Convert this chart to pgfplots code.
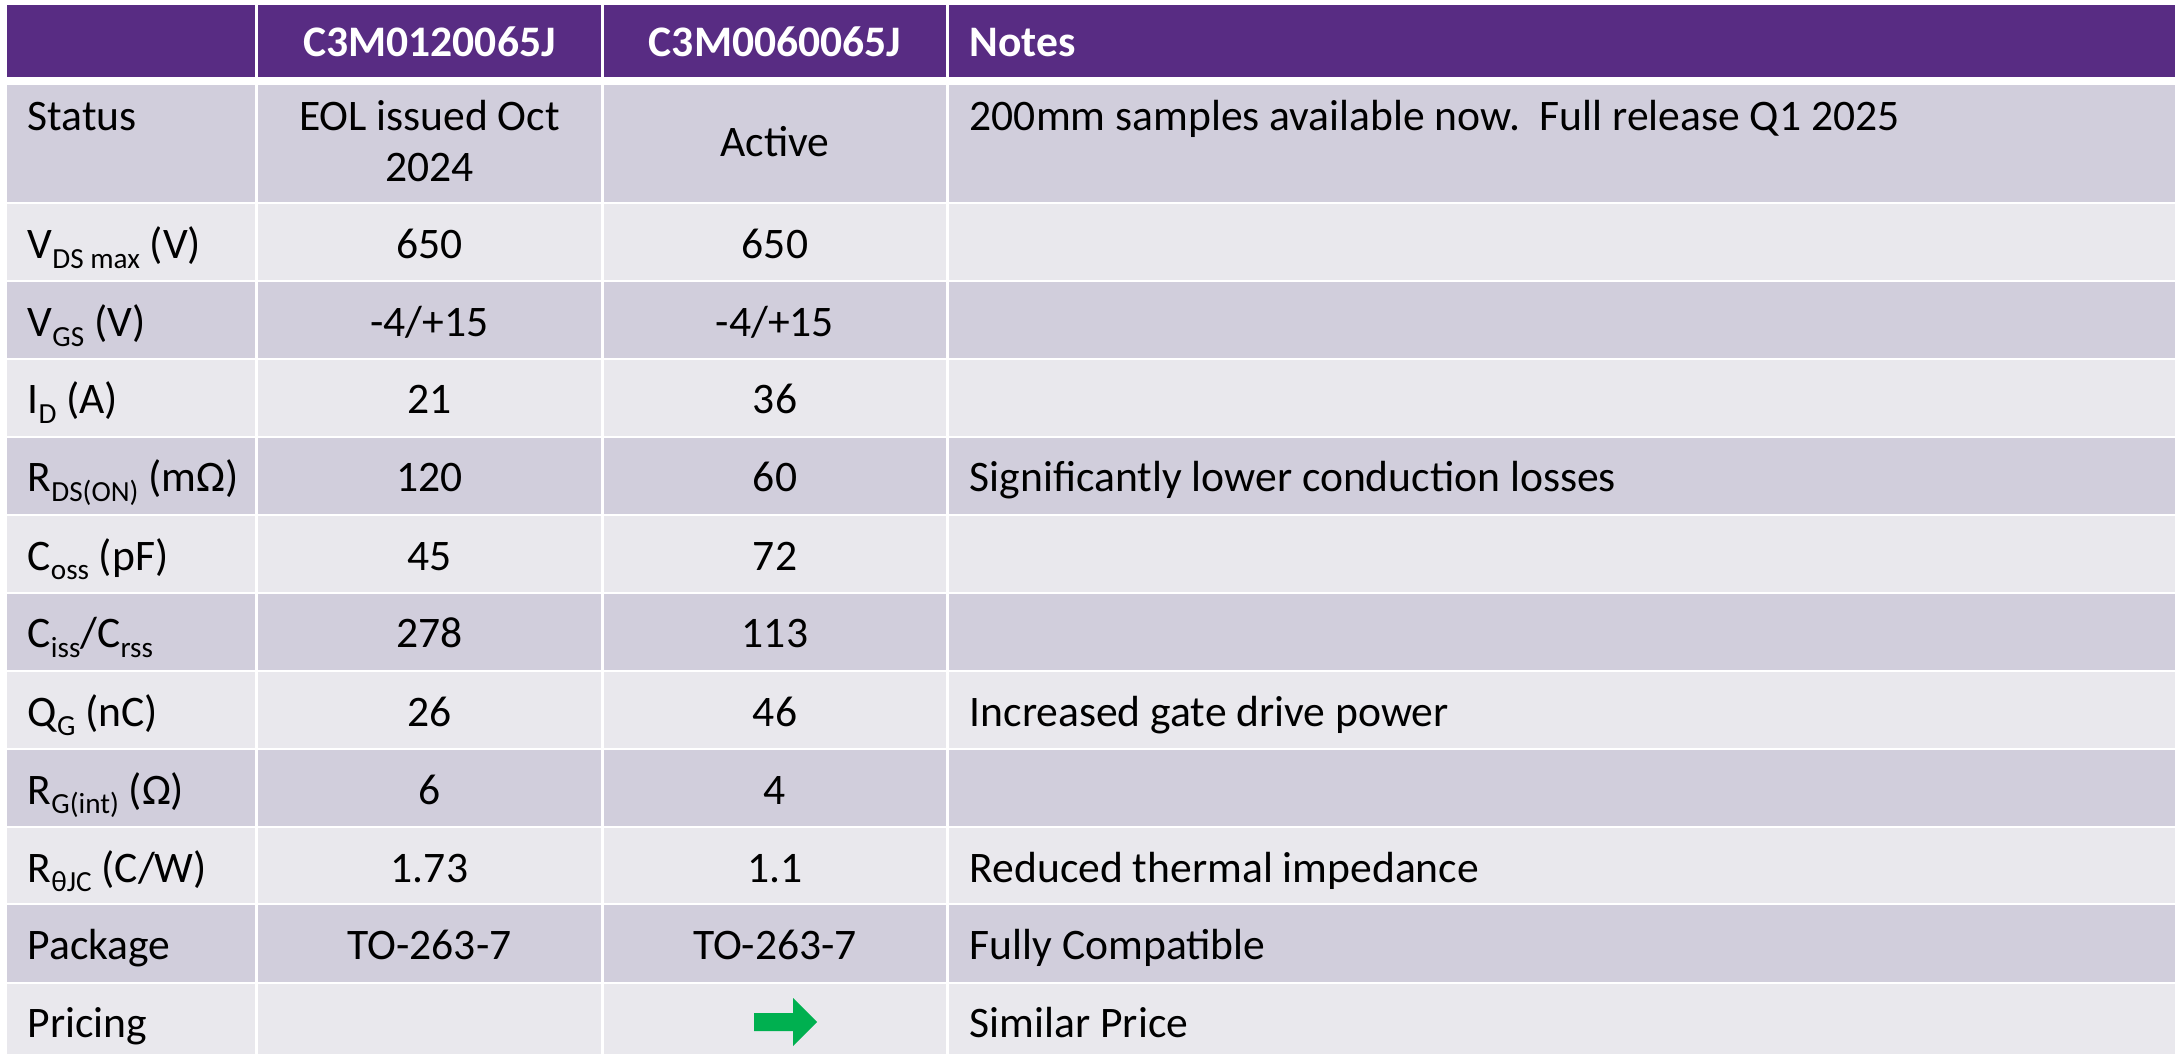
\documentclass[border=0pt]{standalone}
\usepackage{pgfplots}
\pgfplotsset{compat=1.18}
\usepackage{fontspec}
\setmainfont{Carlito}
\definecolor{hdr}{RGB}{88,44,131}
\definecolor{rowdark}{RGB}{209,206,220}
\definecolor{rowlight}{RGB}{233,232,237}
\definecolor{arrowgreen}{RGB}{0,176,80}
\newcommand{\sub}[1]{\raisebox{-2.8pt}{\fontsize{8.3}{9}\selectfont #1}}
\newcommand{\tf}{\fontsize{12.4}{15}\selectfont}
\begin{document}
\begin{tikzpicture}[every node/.style={inner sep=0pt,font=\tf}]
\begin{axis}[width=218.2mm,height=105.4mm,scale only axis,
  xmin=0,xmax=2182,ymin=0,ymax=1054,y dir=reverse,hide axis,clip=false]
\path (axis cs:0,0) rectangle (axis cs:2182,1054);
% row backgrounds
\addplot[fill=hdr,draw=none] coordinates {(7,5) (2175,5) (2175,77) (7,77)} --cycle;
\addplot[fill=rowdark,draw=none] coordinates {(7,85) (2175,85) (2175,202) (7,202)} --cycle;
\addplot[fill=rowlight,draw=none] coordinates {(7,204) (2175,204) (2175,280) (7,280)} --cycle;
\addplot[fill=rowdark,draw=none] coordinates {(7,282) (2175,282) (2175,358) (7,358)} --cycle;
\addplot[fill=rowlight,draw=none] coordinates {(7,360) (2175,360) (2175,436) (7,436)} --cycle;
\addplot[fill=rowdark,draw=none] coordinates {(7,438) (2175,438) (2175,514) (7,514)} --cycle;
\addplot[fill=rowlight,draw=none] coordinates {(7,516) (2175,516) (2175,592) (7,592)} --cycle;
\addplot[fill=rowdark,draw=none] coordinates {(7,594) (2175,594) (2175,670) (7,670)} --cycle;
\addplot[fill=rowlight,draw=none] coordinates {(7,672) (2175,672) (2175,748) (7,748)} --cycle;
\addplot[fill=rowdark,draw=none] coordinates {(7,750) (2175,750) (2175,826) (7,826)} --cycle;
\addplot[fill=rowlight,draw=none] coordinates {(7,828) (2175,828) (2175,903) (7,903)} --cycle;
\addplot[fill=rowdark,draw=none] coordinates {(7,905) (2175,905) (2175,982) (7,982)} --cycle;
\addplot[fill=rowlight,draw=none] coordinates {(7,984) (2175,984) (2175,1054) (7,1054)} --cycle;
% column separators
\addplot[fill=white,draw=none] coordinates {(255,0) (258,0) (258,1054) (255,1054)} --cycle;
\addplot[fill=white,draw=none] coordinates {(601,0) (604,0) (604,1054) (601,1054)} --cycle;
\addplot[fill=white,draw=none] coordinates {(946,0) (949,0) (949,1054) (946,1054)} --cycle;
% green arrow
\addplot[fill=arrowgreen,draw=none] coordinates {(754,1013) (793,1013) (793,998) (817,1022) (793,1046) (793,1031) (754,1031)} --cycle;
% header
\node[anchor=base,text=white] at (axis cs:429.5,57) {\bfseries C3M0120065J};
\node[anchor=base,text=white] at (axis cs:775,57) {\bfseries C3M0060065J};
\node[anchor=base west,text=white] at (axis cs:969,57) {\bfseries Notes};
% status
\node[anchor=base west] at (axis cs:27,131) {Status};
\node[anchor=base] at (axis cs:429.5,131) {EOL issued Oct};
\node[anchor=base] at (axis cs:429.5,182) {2024};
\node[anchor=base] at (axis cs:775,157) {Active};
\node[anchor=base west] at (axis cs:969,131) {200mm samples available now.\ \ Full release Q1 2025};
% rows
\node[anchor=base west] at (axis cs:27,259) {V\sub{DS max} (V)};
\node[anchor=base] at (axis cs:429.5,259) {650};
\node[anchor=base] at (axis cs:775,259) {650};
\node[anchor=base west] at (axis cs:27,337) {V\sub{GS} (V)};
\node[anchor=base] at (axis cs:429.5,337) {-4/+15};
\node[anchor=base] at (axis cs:775,337) {-4/+15};
\node[anchor=base west] at (axis cs:27,414) {I\sub{D} (A)};
\node[anchor=base] at (axis cs:429.5,414) {21};
\node[anchor=base] at (axis cs:775,414) {36};
\node[anchor=base west] at (axis cs:27,492) {R\sub{DS(ON)} (mΩ)};
\node[anchor=base] at (axis cs:429.5,492) {120};
\node[anchor=base] at (axis cs:775,492) {60};
\node[anchor=base west] at (axis cs:969,492) {Significantly lower conduction losses};
\node[anchor=base west] at (axis cs:27,570) {C\sub{oss} (pF)};
\node[anchor=base] at (axis cs:429.5,570) {45};
\node[anchor=base] at (axis cs:775,570) {72};
\node[anchor=base west] at (axis cs:27,648) {C\sub{iss}/C\sub{rss}};
\node[anchor=base] at (axis cs:429.5,648) {278};
\node[anchor=base] at (axis cs:775,648) {113};
\node[anchor=base west] at (axis cs:27,726) {Q\sub{G} (nC)};
\node[anchor=base] at (axis cs:429.5,726) {26};
\node[anchor=base] at (axis cs:775,726) {46};
\node[anchor=base west] at (axis cs:969,726) {Increased gate drive power};
\node[anchor=base west] at (axis cs:27,804) {R\sub{G(int)} (Ω)};
\node[anchor=base] at (axis cs:429.5,804) {6};
\node[anchor=base] at (axis cs:775,804) {4};
\node[anchor=base west] at (axis cs:27,882) {R\sub{θJC} (C/W)};
\node[anchor=base] at (axis cs:429.5,882) {1.73};
\node[anchor=base] at (axis cs:775,882) {1.1};
\node[anchor=base west] at (axis cs:969,882) {Reduced thermal impedance};
\node[anchor=base west] at (axis cs:27,959) {Package};
\node[anchor=base] at (axis cs:429.5,959) {TO-263-7};
\node[anchor=base] at (axis cs:775,959) {TO-263-7};
\node[anchor=base west] at (axis cs:969,959) {Fully Compatible};
\node[anchor=base west] at (axis cs:27,1037) {Pricing};
\node[anchor=base west] at (axis cs:969,1037) {Similar Price};
\end{axis}
\end{tikzpicture}
\end{document}
